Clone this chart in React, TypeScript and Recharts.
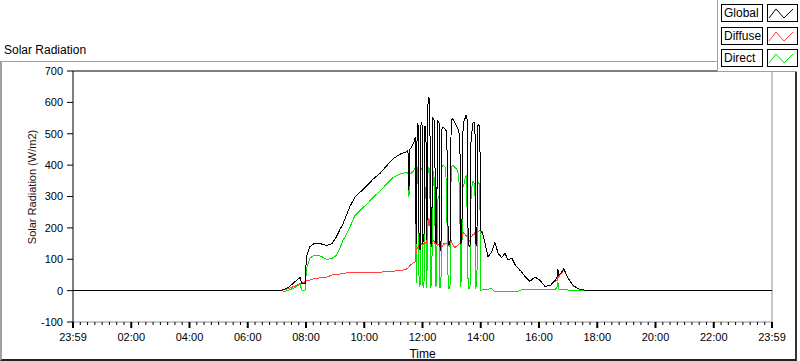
import { LineChart, Line, XAxis, YAxis, ReferenceLine, Legend } from 'recharts';

const FONT = '"Liberation Sans", Arial, sans-serif';

// minutes after midnight
const timeMin = [
  0, 426, 437, 447, 457, 468, 470, 472, 478, 480,
  482, 488, 497, 505, 513, 523, 534, 542, 550, 556,
  562, 571, 581, 591, 606, 618, 632, 645, 659, 674,
  686, 690, 692, 694, 699, 703,
  705, 707, 709, 711, 713, 715, 717, 719, 721, 723,
  725, 727, 729, 731, 733, 735, 737, 739, 741, 743,
  745, 747, 749, 751, 754, 756, 758, 760, 762, 764,
  766, 768, 770, 773, 775, 777, 779, 781, 783, 785,
  787, 789, 791, 793, 795, 797, 799, 801, 803, 805,
  808, 810, 812, 814, 816, 818, 820, 822, 824, 826,
  828, 830, 832, 834, 836, 838, 840, 843, 845,
  849, 855, 862, 865, 869, 876, 883, 890, 896, 904,
  911, 921, 923, 931, 941, 952, 962, 972, 983, 993,
  997, 999, 1001, 1005, 1011, 1020, 1030, 1040, 1055, 1065,
  1440,
];

const globalWm2 = [
  0, 0, 5, 14, 28, 42, 30, 22, 22, 80,
  112, 140, 150, 152, 148, 144, 150, 170, 195, 212,
  235, 270, 298, 313, 335, 355, 373, 396, 420, 435,
  442, 448, 320, 450, 462, 475,
  490, 150, 533, 525, 150, 128, 538, 528, 155, 160,
  525, 515, 160, 590, 617, 605, 150, 140, 550, 548,
  540, 155, 150, 540, 535, 140, 128, 515, 520, 518,
  515, 512, 505, 155, 145, 160, 540, 548, 545, 540,
  535, 528, 522, 515, 505, 480, 150, 160, 500, 540,
  550, 560, 545, 150, 140, 145, 480, 510, 535, 538,
  530, 150, 145, 525, 530, 525, 190, 185, 175,
  150, 108, 122, 135, 154, 118, 106, 119, 98, 104,
  82, 64, 62, 45, 30, 43, 33, 14, 16, 32,
  42, 68, 50, 55, 69, 40, 17, 6, 1, 0,
  0,
];

const diffuseWm2 = [
  0, 0, 3, 8, 15, 22, 22, 25, 28, 30,
  32, 34, 38, 40, 41, 43, 50, 52, 53, 55,
  56, 57, 57, 57, 58, 58, 59, 60, 62, 64,
  68, 72, 75, 80, 86, 90,
  92, 128, 135, 140, 145, 140, 145, 150, 145, 150,
  155, 150, 165, 200, 230, 215, 175, 160, 155, 160,
  150, 145, 150, 148, 145, 140, 135, 140, 145, 150,
  148, 150, 152, 150, 140, 155, 160, 150, 145, 140,
  138, 140, 142, 145, 148, 150, 155, 165, 180, 185,
  180, 175, 170, 160, 155, 160, 170, 175, 180, 178,
  185, 170, 175, 185, 190, 192, 190, 188, 175,
  150, 108, 122, 135, 154, 118, 106, 119, 98, 104,
  82, 64, 62, 45, 30, 43, 33, 14, 16, 30,
  32, 42, 45, 52, 67, 39, 16, 6, 1, 0,
  0,
];

const directWm2 = [
  0, 0, -2, 3, 10, 22, 8, 0, 2, 45,
  75, 104, 112, 113, 108, 99, 103, 112, 135, 160,
  176, 205, 240, 255, 277, 297, 317, 338, 360, 372,
  376, 378, 298, 372, 376, 385,
  392, 25, 395, 380, 12, 20, 390, 385, 15, 10,
  290, 330, 8, 370, 390, 385, 10, 25, 310, 380,
  330, 12, 20, 290, 300, 8, 15, 395, 400, 398,
  395, 390, 255, 15, 5, 20, 390, 398, 398, 395,
  392, 390, 385, 375, 360, 245, 10, 120, 330, 335,
  360, 365, 250, 10, 5, 15, 300, 335, 350, 345,
  330, 10, 15, 340, 345, 340, 0, 2, 5,
  5, 4, 8, 3, -4, -2, -2, -2, -2, -2,
  -2, -1, 3, 3, 3, 3, 3, 3, 3, 4,
  10, 27, 5, 3, 2, 2, 1, 0, 0, 0,
  0,
];

const xTickLabels = [
  '23:59', '02:00', '04:00', '06:00', '08:00', '10:00', '12:00',
  '14:00', '16:00', '18:00', '20:00', '22:00', '23:59',
];
const yTicks = [-100, 0, 100, 200, 300, 400, 500, 600, 700];

const legendItems = [
  { name: 'Global', color: '#000000' },
  { name: 'Diffuse', color: '#ff4040' },
  { name: 'Direct', color: '#00e600' },
];

const chartData = timeMin.map((t, i) => ({
  t,
  global: globalWm2[i],
  diffuse: diffuseWm2[i],
  direct: directWm2[i],
}));

// one tick every 15 min, labelled every 2 h
const xTickValues = Array.from({ length: 97 }, (_, i) => i * 15);

const TimeTick = ({ x, y, payload }: any) => {
  const v = payload.value;
  const major = v % 120 === 0;
  return (
    <g>
      <line
        x1={x}
        x2={x}
        y1={y}
        y2={y + (major ? 6 : 3)}
        stroke="#000"
        strokeWidth={major ? 2 : 1}
      />
      {major && (
        <text x={x} y={y + 19} textAnchor="middle" fontSize={11} fontFamily={FONT} fill="#000">
          {xTickLabels[v / 120]}
        </text>
      )}
    </g>
  );
};

const LegendBox = () => (
  <div style={{ width: 80, height: 72, background: '#fff', borderLeft: '1px solid #a0a0a0', borderBottom: '1px solid #a0a0a0', boxSizing: 'border-box', position: 'relative' }}>
    {legendItems.map((item, i) => (
      <div key={item.name} style={{ position: 'absolute', left: 3, top: 4 + i * 22.5, display: 'flex', gap: 4 }}>
        <div
          style={{
            width: 42,
            height: 18,
            border: '1px solid #000',
            boxSizing: 'border-box',
            fontSize: 12,
            fontFamily: FONT,
            lineHeight: '16px',
            paddingLeft: 2,
            color: '#000',
          }}
        >
          {item.name}
        </div>
        <div style={{ width: 31, height: 18, border: '1px solid #000', boxSizing: 'border-box' }}>
          <svg width={29} height={16} style={{ display: 'block' }}>
            <polyline points="1,13 8,4 16,13 25,4" fill="none" stroke={item.color} strokeWidth={1} />
          </svg>
        </div>
      </div>
    ))}
  </div>
);

export default function App() {
  return (
    <div style={{ position: 'absolute', left: 0, top: 0, width: 800, height: 361, background: '#fff', fontFamily: FONT }}>
      <style>{`.recharts-line-curve { shape-rendering: crispEdges; }`}</style>
      <div
        style={{
          position: 'absolute',
          left: 0,
          top: 61,
          width: 797,
          height: 300,
          boxSizing: 'border-box',
          borderTop: '1px solid #a0a0a0',
          borderLeft: '2px solid #a0a0a0',
          borderRight: '2px solid #333',
          borderBottom: '2px solid #222',
        }}
      />
      <div style={{ position: 'absolute', left: 4, top: 43, fontSize: 12, color: '#000' }}>Solar Radiation</div>
      <div style={{ position: 'absolute', left: 0, top: 0 }}>
        <LineChart width={800} height={361} data={chartData} margin={{ top: 71, right: 28, bottom: 0, left: 0 }}>
          <XAxis
            dataKey="t"
            type="number"
            domain={[0, 1440]}
            ticks={xTickValues}
            interval={0}
            height={39}
            tickSize={0}
            tickMargin={0}
            tickLine={false}
            tick={<TimeTick />}
            axisLine={{ stroke: '#909090' }}
            allowDataOverflow
            label={{ value: 'Time', position: 'insideBottom', offset: 3, fontSize: 12, fontFamily: FONT, fill: '#000' }}
          />
          <YAxis
            type="number"
            domain={[-100, 700]}
            ticks={yTicks}
            interval={0}
            width={73}
            tickSize={6}
            tickMargin={4}
            tick={{ fontSize: 11, fontFamily: FONT, fill: '#000' }}
            tickLine={{ stroke: '#000' }}
            axisLine={{ stroke: '#000' }}
            allowDataOverflow
            label={{
              content: () => (
                <text
                  x={32}
                  y={187}
                  transform="rotate(-90 32 187)"
                  textAnchor="middle"
                  dominantBaseline="central"
                  fontSize={11}
                  fontFamily={FONT}
                  fill="#2a1010"
                >
                  Solar Radiation (W/m2)
                </text>
              ),
            }}
          />
          <ReferenceLine y={700} stroke="#000" />
          <ReferenceLine x={1440} stroke="#909090" />
          <Line type="linear" dataKey="direct" stroke={legendItems[2].color} strokeWidth={1} dot={false} activeDot={false} isAnimationActive={false} />
          <Line type="linear" dataKey="diffuse" stroke={legendItems[1].color} strokeWidth={1} dot={false} activeDot={false} isAnimationActive={false} />
          <Line type="linear" dataKey="global" stroke={legendItems[0].color} strokeWidth={1} dot={false} activeDot={false} isAnimationActive={false} />
          <Legend
            layout="vertical"
            align="center"
            verticalAlign="middle"
            wrapperStyle={{ left: 717, top: 0, width: 80, height: 72 }}
            content={<LegendBox />}
          />
        </LineChart>
      </div>
    </div>
  );
}
